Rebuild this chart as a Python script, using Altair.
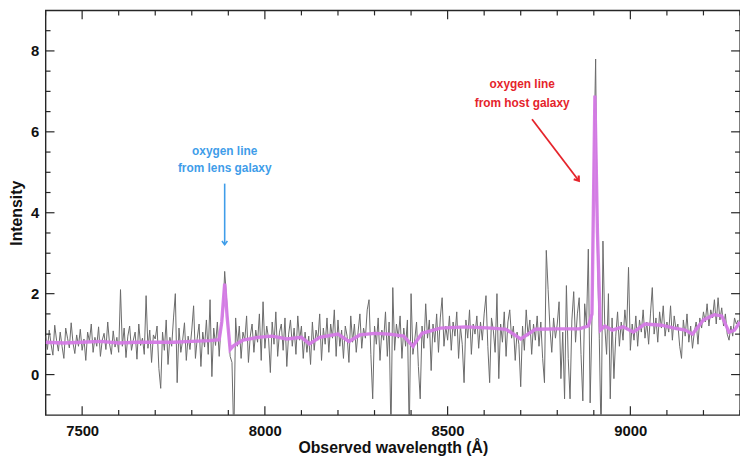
import altair as alt
import pandas as pd

# ---------------- data ----------------
WL_START = 7400
WL_STEP = 5
gray_vals = [
    # 7400-7495
    0.95, 0.62, 1.10, 0.75, 0.48, 1.22, 0.85, 0.58, 1.05, 0.70, 0.40, 1.15, 0.90, 0.66, 1.28, 0.78, 0.52, 0.98, 0.70, 1.12,
    # 7500-7595
    0.60, 0.88, 0.35, 1.05, 0.82, 1.25, 0.55, 0.92, 0.70, 1.18, 0.45, 0.85, 1.02, 0.62, 1.30, 0.76, 0.50, 1.08, 0.68, 0.92,
    # 7600-7695
    0.55, 2.10, 0.70, 1.15, 0.42, 0.95, 1.20, 0.60, 0.85, 1.05, 0.38, 1.25, 0.72, 0.90, 0.50, 1.95, 0.65, 1.10, 0.30, 0.98,
    # 7700-7795
    0.88, 1.20, 0.15, -0.34, 1.05, 0.60, 1.35, 0.25, 0.92, 0.70, 1.40, 2.00, -0.20, 1.15, 0.55, 0.85, 1.28, 0.35, 0.95, 0.62,
    # 7800-7895
    1.10, 1.70, 0.40, 0.90, 1.25, 0.20, 1.05, 0.68, 1.35, 0.50, 1.85, -0.05, 1.15, 0.72, 1.30, 0.45, 1.20, 1.45, 2.55, 1.90,
    # 7900-7995
    1.10, 0.45, 0.30, -1.60, 1.40, 0.70, 1.20, 0.40, 1.05, 0.85, 1.45, 0.30, 0.95, 1.25, 0.55, 1.10, 0.80, 1.50, 0.35, 1.80,
    # 8000-8095
    0.65, 1.20, 0.90, 0.05, 1.30, 0.75, 1.55, 0.45, 1.05, 1.25, 0.60, 1.40, 0.20, 1.00, 1.35, 0.70, 1.15, 0.50, 1.45, 0.85,
    # 8100-8195
    1.20, 0.40, 1.05, 0.55, 0.95, 0.25, 1.30, 0.60, 1.10, 0.85, 1.50, 0.35, 1.15, 0.75, 1.40, 0.55, 1.25, 0.90, 1.60, 0.45,
    # 8200-8295
    1.35, 0.70, 1.10, 0.40, 1.20, 0.95, 0.30, 1.45, 0.80, 1.25, 0.55, 1.05, 1.50, 0.65, 1.15, 0.90, 1.60, 1.85, 0.50, -0.60,
    # 8300-8395
    1.20, 0.75, 1.40, 0.35, 1.10, 0.85, 1.55, 0.45, 1.30, -1.50, 2.15, 0.60, 1.25, 0.90, 1.45, 0.40, 1.15, 0.70, 1.35, -1.50,
    # 8400-8495
    2.00, 0.50, 0.85, 1.30, 0.20, -0.60, 1.20, 0.65, 1.75, 0.90, 1.35, 0.10, 1.25, 0.80, 1.50, 0.55, 1.40, 1.90, 0.70, 1.20,
    # 8500-8595
    0.85, 1.45, 0.60, 1.30, 0.95, 1.55, 0.40, 1.20, 0.75, -0.20, 1.35, 0.90, 1.60, 0.50, 1.25, 1.00, 1.45, 0.65, 1.30, 0.85,
    # 8600-8695
    1.50, 1.95, 0.70, -0.20, 1.40, 1.10, 0.55, 2.00, -0.10, 1.25, 0.80, 1.55, 0.45, 1.30, 1.60, 0.90, 1.20, 0.35, 1.05, 0.75,
    # 8700-8795
    -0.30, 1.20, 0.60, 1.60, 0.95, 1.35, 0.50, 1.25, 0.85, 1.45, 0.70, 1.30, 0.40, -0.20, 3.07, 2.10, 1.15, 0.55, 1.40, 0.90,
    # 8800-8895
    1.25, 1.80, -0.10, 1.05, -0.60, 2.20, 0.40, -0.60, 1.35, 2.05, 0.80, 1.50, 1.90, 0.50, -0.65, 1.75, 1.20, 3.10, -0.70, 1.40,
    # 8900-8995
    5.20, 7.80, 3.00, 0.90, -1.60, 3.30, 1.20, 0.50, 2.00, -0.60, 1.40, -0.10, 0.95, 1.55, 0.70, 1.30, 0.85, 1.60, 1.10, 2.65,
    # 9000-9095
    0.60, 1.25, 0.85, 1.45, 0.70, 1.35, 1.05, 1.60, 0.90, 1.30, 0.75, 1.50, 2.15, 1.00, 1.40, 0.80, 1.55, 1.15, 1.70, 0.95,
    # 9100-9195
    1.30, 1.05, 1.70, 0.85, 1.45, 1.10, 1.25, 0.70, 0.40, 1.35, 0.95, 1.50, 0.80, 1.20, 0.65, 1.05, 1.30, 0.75, 1.40, 1.15,
    # 9200-9295
    1.55, 1.30, 1.75, 1.20, 1.60, 1.40, 1.85, 1.25, 1.90, 1.35, 1.65, 1.20, 1.50, 1.00, 0.85, 1.20, 0.95, 1.40, 1.25, 1.35,
]
gray_wl = [WL_START + WL_STEP * i for i in range(len(gray_vals))]

mag_wl = [7400, 7450, 7500, 7550, 7600, 7650, 7700, 7750, 7800, 7850, 7875, 7882, 7890, 7897, 7905,
          7915, 7940, 7980, 8020, 8060, 8100, 8122, 8150, 8200, 8230, 8260, 8300, 8340, 8380, 8405,
          8430, 8480, 8550, 8620, 8660, 8700, 8740, 8800, 8860, 8885, 8895, 8903, 8910, 8918, 8930,
          8950, 8980, 9008, 9040, 9085, 9120, 9150, 9170, 9200, 9230, 9250, 9270, 9285, 9300]
mag_vals = [0.80, 0.78, 0.80, 0.82, 0.78, 0.80, 0.80, 0.80, 0.82, 0.84, 0.86, 1.30, 2.25, 1.40, 0.62,
            0.72, 0.85, 0.92, 0.95, 0.88, 0.92, 0.76, 0.92, 1.00, 0.82, 0.98, 1.02, 1.00, 0.95, 0.70,
            1.02, 1.15, 1.18, 1.15, 1.12, 0.88, 1.12, 1.13, 1.13, 1.20, 1.50, 6.90, 3.50, 1.10, 1.20,
            1.10, 1.18, 1.05, 1.25, 1.22, 1.15, 1.10, 1.00, 1.35, 1.48, 1.45, 1.05, 1.10, 1.30]

x_major = [7500, 8000, 8500, 9000]
x_minor = [7400, 7600, 7700, 7800, 7900, 8100, 8200, 8300, 8400, 8600, 8700, 8800, 8900, 9100, 9200, 9300]
y_major = [0, 2, 4, 6, 8]
y_minor = [-0.5, 0.5, 1, 1.5, 2.5, 3, 3.5, 4.5, 5, 5.5, 6.5, 7, 7.5, 8.5]

blue_text = ["oxygen line", "from lens galaxy"]
blue_text_wl = [7890, 7890]
blue_text_v = [5.53, 5.11]
blue_arrow = {"wl": [7890], "v": [4.72], "wl2": [7890], "v2": [3.21]}

red_text = ["oxygen line", "from host galaxy"]
red_text_wl = [8704, 8704]
red_text_v = [7.17, 6.70]
red_arrow = {"wl": [8731], "v": [6.31], "wl2": [8859], "v2": [4.79]}

# ---------------- layout / styling ----------------
W, H = 702, 409
FONT = "Liberation Sans"
GRAY = "#6a6a6a"
MAGENTA = "#d57ae6"
BLUE = "#3f9de9"
RED = "#e5242b"
FRAME = "#262626"

xscale = alt.Scale(domain=[7400, 9300], nice=False, zero=False)
yscale = alt.Scale(domain=[-1, 9], nice=False, zero=False)

df_gray = pd.DataFrame({"wl": gray_wl, "v": gray_vals})
df_mag = pd.DataFrame({"wl": mag_wl, "v": mag_vals})

gray = alt.Chart(df_gray).mark_line(color=GRAY, strokeWidth=1, clip=True).encode(
    x=alt.X("wl:Q", scale=xscale,
            axis=alt.Axis(values=x_major, format="d", title="Observed wavelength (Å)",
                          ticks=False, domain=False, grid=False, labelPadding=9,
                          titlePadding=1)),
    y=alt.Y("v:Q", scale=yscale,
            axis=alt.Axis(values=y_major, format="d", title="Intensity",
                          ticks=False, domain=False, grid=False, labelPadding=7,
                          titlePadding=6)),
)

mag = alt.Chart(df_mag).mark_line(color=MAGENTA, strokeWidth=3.4, opacity=0.95, clip=True).encode(
    x="wl:Q", y="v:Q"
)

def xticks(vals, length):
    d = pd.DataFrame({"wl": vals})
    bottom = alt.Chart(d).mark_rule(color=FRAME, strokeWidth=1.2).encode(
        x="wl:Q", y=alt.value(H), y2=alt.value(H - length))
    top = alt.Chart(d).mark_rule(color=FRAME, strokeWidth=1.2).encode(
        x="wl:Q", y=alt.value(0), y2=alt.value(length))
    return [bottom, top]

def yticks(vals, length):
    d = pd.DataFrame({"v": vals})
    left = alt.Chart(d).mark_rule(color=FRAME, strokeWidth=1.2).encode(
        y="v:Q", x=alt.value(0), x2=alt.value(length))
    right = alt.Chart(d).mark_rule(color=FRAME, strokeWidth=1.2).encode(
        y="v:Q", x=alt.value(W - length), x2=alt.value(W))
    return [left, right]

tick_layers = xticks(x_major, 9) + xticks(x_minor, 5) + yticks(y_major, 9) + yticks(y_minor, 5)

chevron = "M-1,-1.4L0,0L1,-1.4"

blue_shaft = alt.Chart(pd.DataFrame(blue_arrow)).mark_rule(color=BLUE, strokeWidth=1.6).encode(
    x="wl:Q", y="v:Q", x2="wl2:Q", y2="v2:Q")
blue_head = alt.Chart(pd.DataFrame(blue_arrow)).mark_point(
    shape=chevron, size=30, filled=False, color=BLUE, strokeWidth=1.6, opacity=1).encode(
    x="wl2:Q", y="v2:Q")
blue_lbl = alt.Chart(pd.DataFrame({"wl": blue_text_wl, "v": blue_text_v, "t": blue_text})).mark_text(
    font=FONT, fontSize=12, fontWeight="bold", color=BLUE, align="center", baseline="middle").encode(
    x="wl:Q", y="v:Q", text="t:N")

red_shaft = alt.Chart(pd.DataFrame(red_arrow)).mark_rule(color=RED, strokeWidth=1.8).encode(
    x="wl:Q", y="v:Q", x2="wl2:Q", y2="v2:Q")
red_head = alt.Chart(pd.DataFrame(red_arrow)).mark_point(
    shape=chevron, size=40, filled=False, color=RED, strokeWidth=2.2, opacity=1, angle=323).encode(
    x="wl2:Q", y="v2:Q")
red_lbl = alt.Chart(pd.DataFrame({"wl": red_text_wl, "v": red_text_v, "t": red_text})).mark_text(
    font=FONT, fontSize=12, fontWeight="bold", color=RED, align="center", baseline="middle").encode(
    x="wl:Q", y="v:Q", text="t:N")

chart = alt.layer(
    gray, mag, *tick_layers, blue_shaft, blue_head, blue_lbl, red_shaft, red_head, red_lbl
).properties(
    width=W, height=H,
    background="white",
    autosize=alt.AutoSizeParams(type="none"),
    padding={"left": 38, "top": 0, "right": 0, "bottom": 46},
).configure_axis(
    labelFont=FONT, titleFont=FONT, labelFontSize=15, titleFontSize=16,
    labelFontWeight="bold", titleFontWeight="bold", labelColor="#111", titleColor="#111",
).configure_view(
    stroke=FRAME, strokeWidth=1.4
)

chart.save("out.html", embed_options={"renderer": "svg", "actions": False})
